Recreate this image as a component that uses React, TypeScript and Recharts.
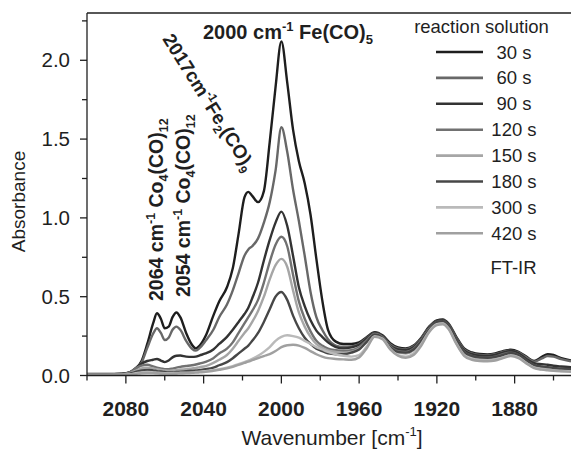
import React from "react";
import { LineChart, Line, XAxis, YAxis, ReferenceLine } from "recharts";

const WAVENUMBER = [
  2100, 2090, 2082, 2078, 2075, 2072, 2069, 2066, 2064, 2062,
  2060, 2058, 2056, 2054, 2052, 2049, 2046, 2044, 2042, 2039,
  2035, 2032, 2028, 2025, 2022, 2019, 2017, 2015, 2012, 2009,
  2006, 2003, 2000, 1997, 1994, 1991, 1988, 1985, 1982, 1979,
  1976, 1972, 1968, 1964, 1960, 1956, 1952, 1948, 1944, 1940,
  1936, 1932, 1928, 1924, 1920, 1917, 1914, 1910, 1906, 1902,
  1898, 1894, 1890, 1886, 1882, 1878, 1874, 1870, 1866, 1863,
  1860, 1856, 1851,
];

const S30 = [
  0.010, 0.010, 0.012, 0.020, 0.045, 0.090, 0.20, 0.33, 0.395, 0.36,
  0.30, 0.31, 0.37, 0.40, 0.37, 0.27, 0.195, 0.172, 0.19, 0.25,
  0.38, 0.47, 0.56, 0.68, 0.90, 1.13, 1.165, 1.14, 1.10, 1.17,
  1.48, 1.83, 2.12, 1.86, 1.56, 1.36, 1.22, 1.02, 0.74, 0.48,
  0.29, 0.215, 0.20, 0.20, 0.21, 0.245, 0.275, 0.255, 0.205, 0.178,
  0.172, 0.19, 0.24, 0.31, 0.35, 0.356, 0.33, 0.245, 0.172, 0.146,
  0.136, 0.134, 0.14, 0.155, 0.163, 0.15, 0.12, 0.092, 0.118, 0.135,
  0.13, 0.11, 0.095,
];
const S60 = [
  0.008, 0.008, 0.010, 0.018, 0.040, 0.080, 0.175, 0.265, 0.30, 0.27,
  0.225, 0.24, 0.29, 0.31, 0.29, 0.22, 0.17, 0.158, 0.175, 0.22,
  0.29, 0.37, 0.45, 0.54, 0.65, 0.76, 0.80, 0.82, 0.87, 0.97,
  1.10, 1.30, 1.575, 1.42, 1.18, 0.98, 0.76, 0.53, 0.37, 0.29,
  0.23, 0.19, 0.182, 0.185, 0.20, 0.24, 0.27, 0.25, 0.197, 0.172,
  0.166, 0.185, 0.235, 0.305, 0.345, 0.35, 0.325, 0.238, 0.166, 0.14,
  0.13, 0.128, 0.135, 0.15, 0.158, 0.145, 0.115, 0.088, 0.108, 0.124,
  0.12, 0.104, 0.09,
];
const S90 = [
  0.008, 0.008, 0.010, 0.020, 0.045, 0.075, 0.092, 0.100, 0.105, 0.095,
  0.085, 0.095, 0.115, 0.125, 0.127, 0.12, 0.118, 0.12, 0.128, 0.14,
  0.165, 0.20, 0.245, 0.29, 0.34, 0.39, 0.43, 0.49, 0.59, 0.73,
  0.86, 0.97, 1.04, 0.95, 0.76, 0.56, 0.44, 0.35, 0.285, 0.245,
  0.21, 0.18, 0.172, 0.178, 0.195, 0.235, 0.27, 0.25, 0.19, 0.165,
  0.16, 0.18, 0.23, 0.30, 0.345, 0.35, 0.32, 0.23, 0.16, 0.135,
  0.125, 0.123, 0.13, 0.145, 0.155, 0.14, 0.105, 0.078, 0.072, 0.068,
  0.062, 0.057, 0.052,
];
const S120 = [
  0.006, 0.006, 0.008, 0.020, 0.045, 0.062, 0.068, 0.058, 0.05, 0.045,
  0.04, 0.04, 0.044, 0.05, 0.055, 0.06, 0.065, 0.07, 0.076, 0.087,
  0.11, 0.14, 0.17, 0.21, 0.27, 0.33, 0.37, 0.41, 0.48, 0.59,
  0.72, 0.83, 0.88, 0.82, 0.64, 0.47, 0.36, 0.28, 0.22, 0.19,
  0.17, 0.16, 0.155, 0.16, 0.18, 0.225, 0.265, 0.245, 0.185, 0.155,
  0.15, 0.17, 0.225, 0.295, 0.34, 0.345, 0.315, 0.225, 0.15, 0.125,
  0.115, 0.113, 0.12, 0.135, 0.145, 0.13, 0.095, 0.065, 0.055, 0.05,
  0.045, 0.04, 0.037,
];
const S150 = [
  0.005, 0.005, 0.007, 0.015, 0.030, 0.045, 0.050, 0.045, 0.04, 0.035,
  0.032, 0.03, 0.032, 0.035, 0.038, 0.04, 0.045, 0.048, 0.053, 0.06,
  0.08, 0.10, 0.13, 0.17, 0.22, 0.27, 0.30, 0.34, 0.41, 0.50,
  0.61, 0.70, 0.74, 0.69, 0.54, 0.40, 0.31, 0.245, 0.20, 0.175,
  0.16, 0.15, 0.145, 0.15, 0.17, 0.215, 0.26, 0.24, 0.18, 0.145,
  0.14, 0.16, 0.22, 0.29, 0.335, 0.34, 0.31, 0.22, 0.145, 0.12,
  0.108, 0.105, 0.11, 0.125, 0.138, 0.125, 0.09, 0.06, 0.05, 0.045,
  0.04, 0.036, 0.033,
];
const S180 = [
  0.005, 0.005, 0.006, 0.012, 0.022, 0.032, 0.036, 0.032, 0.028, 0.025,
  0.022, 0.02, 0.02, 0.022, 0.024, 0.027, 0.03, 0.032, 0.035, 0.04,
  0.05, 0.065, 0.085, 0.11, 0.14, 0.17, 0.19, 0.22, 0.27, 0.34,
  0.42, 0.50, 0.53, 0.48, 0.38, 0.30, 0.24, 0.20, 0.17, 0.155,
  0.14, 0.135, 0.135, 0.145, 0.165, 0.215, 0.26, 0.24, 0.18, 0.15,
  0.145, 0.165, 0.22, 0.29, 0.34, 0.345, 0.315, 0.225, 0.15, 0.125,
  0.115, 0.112, 0.118, 0.13, 0.143, 0.13, 0.097, 0.068, 0.058, 0.053,
  0.048, 0.044, 0.04,
];
const S300 = [
  0.004, 0.004, 0.005, 0.008, 0.014, 0.020, 0.022, 0.020, 0.018, 0.016,
  0.015, 0.015, 0.015, 0.016, 0.017, 0.018, 0.02, 0.022, 0.024, 0.028,
  0.034, 0.04, 0.05, 0.06, 0.072, 0.085, 0.095, 0.105, 0.125, 0.15,
  0.18, 0.22, 0.245, 0.255, 0.25, 0.24, 0.22, 0.20, 0.18, 0.165,
  0.15, 0.135, 0.125, 0.12, 0.13, 0.185, 0.25, 0.235, 0.17, 0.13,
  0.12, 0.14, 0.20, 0.28, 0.325, 0.33, 0.30, 0.205, 0.13, 0.105,
  0.097, 0.095, 0.10, 0.115, 0.127, 0.115, 0.08, 0.05, 0.04, 0.036,
  0.032, 0.029, 0.026,
];
const S420 = [
  0.004, 0.004, 0.005, 0.007, 0.010, 0.014, 0.016, 0.015, 0.014, 0.013,
  0.012, 0.012, 0.012, 0.013, 0.014, 0.015, 0.017, 0.018, 0.02, 0.023,
  0.03, 0.036, 0.045, 0.055, 0.068, 0.08, 0.088, 0.097, 0.11, 0.123,
  0.135, 0.155, 0.18, 0.192, 0.195, 0.19, 0.175, 0.155, 0.135, 0.12,
  0.11, 0.105, 0.102, 0.10, 0.115, 0.175, 0.245, 0.23, 0.165, 0.125,
  0.112, 0.13, 0.19, 0.275, 0.32, 0.325, 0.295, 0.20, 0.125, 0.10,
  0.092, 0.09, 0.095, 0.11, 0.123, 0.11, 0.077, 0.047, 0.037, 0.033,
  0.03, 0.027, 0.024,
];

const SERIES_NAMES = ["30 s", "60 s", "90 s", "120 s", "150 s", "180 s", "300 s", "420 s"];
const SERIES_KEYS = ["s30", "s60", "s90", "s120", "s150", "s180", "s300", "s420"];
const SERIES_COLORS = ["#1e1e1e", "#686868", "#333333", "#717171", "#a6a6a6", "#474747", "#bababa", "#a0a0a0"];
const SERIES_VALUES = [S30, S60, S90, S120, S150, S180, S300, S420];

const X_TICKS = [2100, 2080, 2060, 2040, 2020, 2000, 1980, 1960, 1940, 1920, 1900, 1880, 1860];
const X_LABELED = [2080, 2040, 2000, 1960, 1920, 1880];
const Y_TICKS = [0, 0.25, 0.5, 0.75, 1, 1.25, 1.5, 1.75, 2, 2.25];
const Y_LABELED = [0, 0.5, 1, 1.5, 2];

const data = WAVENUMBER.map((w, i) => {
  const row: Record<string, number> = { w };
  SERIES_KEYS.forEach((k, j) => {
    row[k] = SERIES_VALUES[j][i];
  });
  return row;
});

const W = 571;
const H = 449;
const LEFT = 27;
const YAXIS_W = 60;
const XAXIS_H = 73.5;
const AXIS_X = LEFT + YAXIS_W;
const AXIS_Y = H - XAXIS_H;
const FONT = "'Liberation Sans', Arial, sans-serif";
const INK = "#1f1f1f";

const XTick = (props: any) => {
  const { x, payload } = props;
  const v = payload.value;
  const labeled = X_LABELED.includes(v);
  return (
    <g>
      <line x1={x} x2={x} y1={AXIS_Y} y2={AXIS_Y + (labeled ? 8 : 5)} stroke={INK} strokeWidth={1.3} />
      {labeled && (
        <text x={x} y={AXIS_Y + 40} textAnchor="middle" fontFamily={FONT} fontWeight="bold" fontSize={21} fill={INK}>
          {v}
        </text>
      )}
    </g>
  );
};

const YTick = (props: any) => {
  const { y, payload } = props;
  const v = payload.value;
  const labeled = Y_LABELED.some((t) => Math.abs(t - v) < 1e-6);
  return (
    <g>
      <line x1={AXIS_X - (labeled ? 7 : 5)} x2={AXIS_X} y1={y} y2={y} stroke={INK} strokeWidth={1.3} />
      {labeled && (
        <text x={70} y={y + 7} textAnchor="end" fontFamily={FONT} fontSize={20.5} fill={INK}>
          {v.toFixed(1)}
        </text>
      )}
    </g>
  );
};

const LEG_Y0 = 52;
const LEG_STEP = 25.9;

export default function App() {
  return (
    <div style={{ position: "absolute", left: 0, top: 0, width: W, height: H, background: "#fff", fontFamily: FONT }}>
      <LineChart width={W} height={H} data={data} margin={{ top: 13, right: 0, bottom: 0, left: LEFT }}>
        <XAxis
          dataKey="w"
          type="number"
          domain={[1851, 2100]}
          reversed
          allowDataOverflow
          ticks={X_TICKS}
          interval={0}
          tick={<XTick />}
          tickLine={false}
          height={XAXIS_H}
          axisLine={{ stroke: INK, strokeWidth: 1.3 }}
        />
        <YAxis
          type="number"
          domain={[0, 2.3]}
          allowDataOverflow
          ticks={Y_TICKS}
          interval={0}
          tick={<YTick />}
          tickLine={false}
          width={YAXIS_W}
          axisLine={{ stroke: INK, strokeWidth: 1.3 }}
        />
        <ReferenceLine y={2.3} stroke={INK} strokeWidth={1.3} />
        {SERIES_KEYS.map((k, j) => (
          <Line
            key={k}
            dataKey={k}
            name={SERIES_NAMES[j]}
            type="monotone"
            stroke={SERIES_COLORS[j]}
            strokeWidth={2.4}
            dot={false}
            isAnimationActive={false}
          />
        ))}
      </LineChart>
      <svg
        width={W}
        height={H}
        style={{ position: "absolute", left: 0, top: 0, pointerEvents: "none" }}
        fontFamily={FONT}
      >
        {/* axis titles */}
        <text x={25} y={201.5} transform="rotate(-90 25 201.5)" textAnchor="middle" fontSize={19} fill={INK}>
          Absorbance
        </text>
        <text x={332} y={445} textAnchor="middle" fontSize={21} fill={INK}>
          Wavenumber [cm<tspan fontSize={13} dy={-9}>-1</tspan>
          <tspan dy={9}>]</tspan>
        </text>
        {/* annotations */}
        <text x={203} y={39} fontSize={20} fontWeight="bold" fill={INK}>
          2000 cm<tspan fontSize={13} dy={-8}>-1</tspan>
          <tspan dy={8}> Fe(CO)</tspan>
          <tspan fontSize={13} dy={5}>5</tspan>
        </text>
        <text x={0} y={0} transform="translate(162 39) rotate(58)" fontSize={19} fontWeight="bold" fill={INK}>
          2017cm<tspan fontSize={12} dy={-8}>-1</tspan>
          <tspan dy={8}>Fe</tspan>
          <tspan fontSize={12} dy={5}>2</tspan>
          <tspan dy={-5}>(CO)</tspan>
          <tspan fontSize={12} dy={5}>9</tspan>
        </text>
        <text x={0} y={0} transform="translate(163 301) rotate(-90)" fontSize={19.5} fontWeight="bold" fill={INK}>
          2064 cm<tspan fontSize={12.5} dy={-8}>-1</tspan>
          <tspan dy={8}> Co</tspan>
          <tspan fontSize={12.5} dy={5}>4</tspan>
          <tspan dy={-5}>(CO)</tspan>
          <tspan fontSize={12.5} dy={5}>12</tspan>
        </text>
        <text x={0} y={0} transform="translate(190 297) rotate(-90)" fontSize={19.5} fontWeight="bold" fill={INK}>
          2054 cm<tspan fontSize={12.5} dy={-8}>-1</tspan>
          <tspan dy={8}> Co</tspan>
          <tspan fontSize={12.5} dy={5}>4</tspan>
          <tspan dy={-5}>(CO)</tspan>
          <tspan fontSize={12.5} dy={5}>12</tspan>
        </text>
        {/* legend */}
        <text x={481.5} y={33} textAnchor="middle" fontSize={18.5} fill={INK}>
          reaction solution
        </text>
        {SERIES_NAMES.map((n, j) => {
          const cy = LEG_Y0 + j * LEG_STEP;
          return (
            <g key={n}>
              <line x1={436} x2={483} y1={cy} y2={cy} stroke={SERIES_COLORS[j]} strokeWidth={2.6} />
              <text x={514} y={cy + 6.5} textAnchor="middle" fontSize={18.5} fill={INK}>
                {n}
              </text>
            </g>
          );
        })}
        <text x={513.5} y={273.5} textAnchor="middle" fontSize={18.5} fill={INK}>
          FT-IR
        </text>
      </svg>
    </div>
  );
}
